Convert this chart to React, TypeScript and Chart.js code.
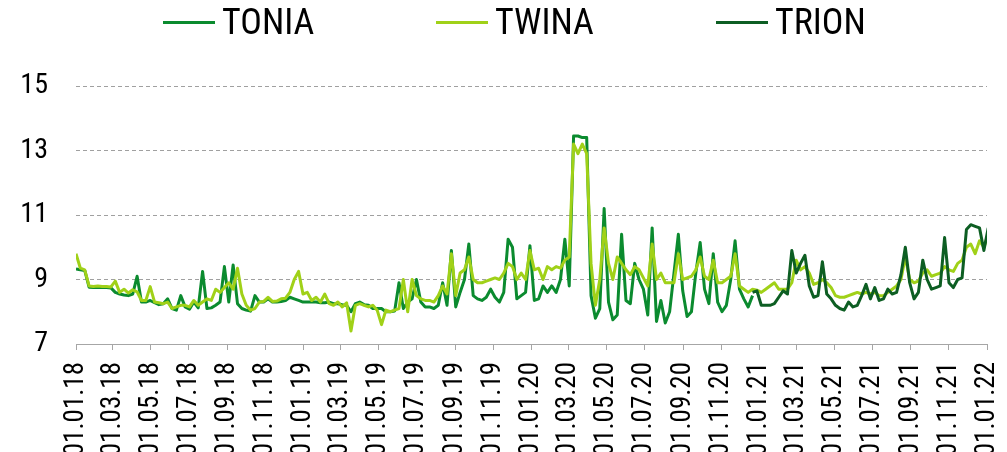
import React, { useEffect, useRef } from "react";
import { Chart, registerables } from "chart.js";

Chart.register(...registerables);

// ---------- data ----------
const seriesNames = ["TONIA", "TWINA", "TRION"];
const seriesColors = ["#0b8b2f", "#a0d118", "#0d5e23"];

// x-axis tick labels (dd.mm.yy), every two months
const tickLabels = [
  "01.01.18", "01.03.18", "01.05.18", "01.07.18", "01.09.18", "01.11.18",
  "01.01.19", "01.03.19", "01.05.19", "01.07.19", "01.09.19", "01.11.19",
  "01.01.20", "01.03.20", "01.05.20", "01.07.20", "01.09.20", "01.11.20",
  "01.01.21", "01.03.21", "01.05.21", "01.07.21", "01.09.21", "01.11.21",
  "01.01.22",
];

const yTicks = [7, 9, 11, 13, 15];

// weekly observations, starting 01.01.18 (week 0)
const toniaStartWeek = 0;
const toniaValues = [
  9.33, 9.3, 9.28, 8.76, 8.75, 8.75, 8.76, 8.75, 8.74, 8.6,
  8.55, 8.52, 8.5, 8.55, 9.1, 8.3, 8.3, 8.35, 8.28, 8.22,
  8.25, 8.4, 8.1, 8.05, 8.5, 8.15, 8.08, 8.3, 8.12, 9.25,
  8.1, 8.12, 8.2, 8.3, 9.4, 8.3, 9.45, 8.25, 8.1, 8.05,
  8.02, 8.5, 8.3, 8.3, 8.4, 8.3, 8.3, 8.32, 8.35, 8.45,
  8.4, 8.35, 8.3, 8.3, 8.3, 8.3, 8.28, 8.28, 8.3, 8.25,
  8.25, 8.22, 8.2, 8.0, 8.25, 8.3, 8.22, 8.2, 8.1, 8.1,
  8.1, 8.0, 8.0, 8.02, 8.9, 8.1, 8.3, 8.4, 9.0, 8.3,
  8.15, 8.15, 8.1, 8.2, 8.9, 8.2, 9.9, 8.15, 8.6, 9.0,
  10.1, 8.5, 8.4, 8.35, 8.45, 8.7, 8.45, 8.3, 8.6, 10.25,
  10.0, 8.4, 8.5, 8.6, 10.05, 8.35, 8.4, 8.8, 8.6, 8.8,
  8.6, 9.0, 10.25, 8.8, 13.45, 13.45, 13.4, 13.4, 8.5, 7.8,
  8.1, 11.2, 8.3, 7.75, 7.9, 10.4, 8.35, 8.25, 9.5, 9.0,
  8.7, 7.9, 10.6, 7.7, 8.35, 7.65, 8.0, 9.2, 10.4, 8.65,
  7.85, 8.0, 9.2, 10.15, 8.7, 8.25, 9.8, 8.3, 8.0, 8.2,
  9.0, 10.2, 8.7, 8.4, 8.15, 8.5,
];

const twinaStartWeek = 0;
const twinaValues = [
  9.8, 9.35, 9.3, 8.8, 8.78, 8.8, 8.78, 8.78, 8.77, 8.95,
  8.6, 8.7, 8.58, 8.68, 8.62, 8.35, 8.35, 8.78, 8.3, 8.28,
  8.25, 8.3, 8.1, 8.15, 8.2, 8.2, 8.15, 8.35, 8.2, 8.3,
  8.4, 8.35, 8.7, 8.6, 8.75, 8.9, 8.7, 9.35, 8.55, 8.2,
  8.05, 8.1, 8.3, 8.32, 8.45, 8.32, 8.33, 8.4, 8.42, 8.6,
  9.0, 9.25, 8.55, 8.6, 8.35, 8.45, 8.3, 8.55, 8.25, 8.2,
  8.3, 8.15, 8.28, 7.4, 8.2, 8.25, 8.2, 8.15, 8.2, 8.05,
  7.6, 8.05, 8.0, 8.05, 8.1, 9.0, 8.0, 9.0, 8.5, 8.4,
  8.35, 8.35, 8.3, 8.5, 8.8, 8.55, 9.8, 8.5, 9.2, 9.3,
  9.7, 9.0, 8.9, 8.9, 8.95, 9.0, 9.05, 9.0, 9.2, 9.5,
  9.4, 9.0, 9.2, 9.0, 9.9, 9.3, 9.35, 9.0, 9.4, 9.3,
  9.4, 9.35, 9.6, 9.7, 13.2, 12.9, 13.2, 12.9, 9.5, 8.2,
  9.0, 10.6, 9.5, 9.0, 9.7, 9.5, 9.3, 9.15, 9.4, 9.3,
  9.05, 8.8, 10.1, 9.0, 9.2, 8.9, 8.9, 8.9, 9.8, 9.0,
  9.05, 9.1, 9.3, 9.7, 9.1, 9.0, 9.6, 8.9, 8.9, 9.0,
  9.1, 9.8, 8.8, 8.7, 8.6, 8.7, 8.67, 8.6, 8.7, 8.8,
  8.9, 8.7, 8.7, 8.7, 8.9, 9.6, 9.3, 9.4, 9.2, 8.85,
  8.9, 9.0, 8.9, 8.75, 8.5, 8.45, 8.45, 8.5, 8.55, 8.6,
  8.55, 8.6, 8.55, 8.6, 8.5, 8.5, 8.6, 8.7, 8.8, 9.0,
  9.7, 9.0, 8.9, 8.95, 9.2, 9.3, 9.1, 9.15, 9.2, 9.4,
  9.3, 9.25, 9.5, 9.6, 10.0, 10.1, 9.8, 10.2, 10.0, 10.4,
];

const trionStartWeek = 155;
const trionValues = [
  8.6, 8.65, 8.2, 8.2, 8.2, 8.25, 8.45, 8.65, 8.55, 9.9,
  9.2, 9.5, 9.75, 8.8, 8.45, 8.5, 9.55, 8.55, 8.4, 8.2,
  8.1, 8.05, 8.3, 8.15, 8.2, 8.5, 8.85, 8.4, 8.75, 8.35,
  8.4, 8.7, 8.55, 8.6, 9.15, 10.0, 8.9, 8.4, 8.6, 9.6,
  9.0, 8.7, 8.75, 8.8, 10.3, 8.9, 8.75, 9.0, 9.05, 10.55,
  10.7, 10.65, 10.6, 9.9, 10.6,
];

// ---------- helpers ----------
const DAY_MS = 86400000;
const ORIGIN = Date.UTC(2018, 0, 1);
const WEEK_DAYS = 7;

function labelToDay(label: string): number {
  const [dd, mm, yy] = label.split(".").map((s) => parseInt(s, 10));
  return Math.round((Date.UTC(2000 + yy, mm - 1, dd) - ORIGIN) / DAY_MS);
}

function toPoints(values: number[], startWeek: number) {
  return values.map((v, i) => ({ x: (startWeek + i) * WEEK_DAYS, y: v }));
}

const tickDays = tickLabels.map(labelToDay);

const FONT = "'Liberation Sans Narrow', 'Arial Narrow', 'Roboto Condensed', Lato, sans-serif";

export default function App() {
  const canvasRef = useRef<HTMLCanvasElement | null>(null);

  useEffect(() => {
    if (!canvasRef.current) return;
    const series = [
      { values: toniaValues, start: toniaStartWeek, order: 3 },
      { values: twinaValues, start: twinaStartWeek, order: 2 },
      { values: trionValues, start: trionStartWeek, order: 1 },
    ];
    const chart = new Chart(canvasRef.current, {
      type: "line",
      data: {
        datasets: series.map((s, i) => ({
          label: seriesNames[i],
          data: toPoints(s.values, s.start),
          borderColor: seriesColors[i],
          backgroundColor: seriesColors[i],
          borderWidth: 3,
          pointRadius: 0,
          tension: 0,
          fill: false,
          borderJoinStyle: "round" as const,
          order: s.order,
        })),
      },
      options: {
        responsive: false,
        maintainAspectRatio: false,
        animation: false,
        layout: { padding: { top: 86, right: 20, bottom: 0, left: 0 } },
        plugins: {
          legend: { display: false },
          tooltip: { enabled: false },
        },
        scales: {
          x: {
            type: "linear",
            min: tickDays[0],
            max: tickDays[tickDays.length - 1],
            afterBuildTicks: (scale: any) => {
              scale.ticks = tickDays.map((d) => ({ value: d }));
            },
            afterFit: (scale: any) => {
              scale.height = 108;
              scale.paddingLeft = 0;
              scale.paddingRight = 0;
            },
            ticks: {
              autoSkip: false,
              maxRotation: 90,
              minRotation: 90,
              padding: 12,
              color: "#000",
              font: { family: FONT, size: 27 },
              callback: (_v: any, i: number) => tickLabels[i],
            },
            grid: {
              drawOnChartArea: false,
              drawTicks: true,
              tickLength: 6,
              color: "#a6a6a6",
            },
            border: { display: true, color: "#a6a6a6", width: 1 },
          },
          y: {
            type: "linear",
            min: yTicks[0],
            max: yTicks[yTicks.length - 1],
            afterBuildTicks: (scale: any) => {
              scale.ticks = yTicks.map((v) => ({ value: v }));
            },
            afterFit: (scale: any) => {
              scale.width = 76;
            },
            ticks: {
              padding: 28,
              color: "#000",
              font: { family: FONT, size: 28 },
            },
            grid: { drawTicks: false, color: "#a0a0a0", lineWidth: 1 },
            border: { display: false, dash: [4, 3] },
          },
        },
      },
    });
    return () => chart.destroy();
  }, []);

  const legendLeft = [163, 436, 716];

  return (
    <div
      style={{
        position: "absolute",
        left: 0,
        top: 0,
        width: 1007,
        height: 452,
        overflow: "hidden",
        background: "#fff",
      }}
    >
      <canvas ref={canvasRef} width={1007} height={452} style={{ display: "block" }} />
      {seriesNames.map((name, i) => (
        <div
          key={name}
          style={{
            position: "absolute",
            left: legendLeft[i],
            top: 0,
            height: 44,
            display: "flex",
            alignItems: "center",
            fontFamily: FONT,
            fontSize: 36,
            color: "#000",
            whiteSpace: "nowrap",
          }}
        >
          <span
            style={{
              display: "inline-block",
              width: 52,
              height: 3,
              background: seriesColors[i],
              marginRight: 7,
            }}
          />
          <span>{name}</span>
        </div>
      ))}
    </div>
  );
}
